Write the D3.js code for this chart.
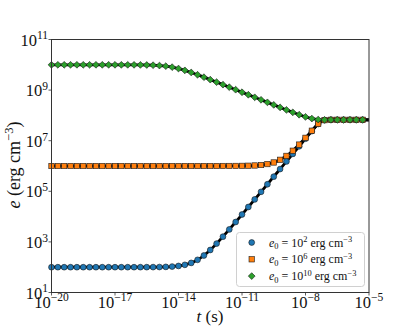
<!DOCTYPE html>
<html><head><meta charset="utf-8">
<script src="https://cdn.jsdelivr.net/npm/d3@7"></script>
<style>
body{margin:0;background:#fff}
svg{display:block}
text{font-family:"Liberation Serif","DejaVu Serif",serif;white-space:pre;fill:#111}
</style>
</head><body><svg id="c" width="411" height="329"></svg>
<script>
// time samples (s); the last one only extends the black curve to the axis edge
const times = [1e-20,1.995e-20,3.981e-20,7.943e-20,1.585e-19,3.162e-19,6.310e-19,1.259e-18,2.512e-18,5.012e-18,
  1e-17,1.995e-17,3.981e-17,7.943e-17,1.585e-16,3.162e-16,6.310e-16,1.259e-15,2.512e-15,5.012e-15,
  1e-14,1.995e-14,3.981e-14,7.943e-14,1.585e-13,3.162e-13,6.310e-13,1.259e-12,2.512e-12,5.012e-12,
  1e-11,1.995e-11,3.981e-11,7.943e-11,1.585e-10,3.162e-10,6.310e-10,1.259e-9,2.512e-9,5.012e-9,
  1e-8,1.995e-8,3.981e-8,7.943e-8,1.585e-7,3.162e-7,6.310e-7,1.259e-6,2.512e-6,5.012e-6,1e-5];
// e (erg cm^-3) for e0 = 1e2
const eLow = [100,100,100,100,100,100,100,100,100,100,
  100.01,100.02,100.05,100.1,100.19,100.38,100.76,101.5,103.0,106.0,
  112.0,123.9,147.8,195.3,290,479,857,1610,3113,6112,
  12100,24000,47900,95400,1.90e5,3.79e5,7.57e5,1.51e6,3.01e6,6.01e6,
  1.20e7,2.39e7,4.56e7,6.49e7,6.7e7,6.7e7,6.7e7,6.7e7,6.7e7,6.7e7,6.7e7];
// e0 = 1e6
const eMid = [1e6,1e6,1e6,1e6,1e6,1e6,1e6,1e6,1e6,1e6,
  1e6,1e6,1e6,1e6,1e6,1e6,1e6,1e6,1e6,1e6,
  1e6,1e6,1e6,1e6,1e6,1e6,1e6,1.0015e6,1.003e6,1.006e6,
  1.012e6,1.024e6,1.048e6,1.095e6,1.19e6,1.379e6,1.757e6,2.51e6,4.01e6,7.01e6,
  1.3e7,2.48e7,4.63e7,6.50e7,6.7e7,6.7e7,6.7e7,6.7e7,6.7e7,6.7e7,6.7e7];
// e0 = 1e10
const eHigh = [1e10,1e10,1e10,1e10,1e10,1e10,1e10,1e10,1e10,1e10,
  9.994e9,9.988e9,9.976e9,9.953e9,9.907e9,9.818e9,9.650e9,9.347e9,8.839e9,8.081e9,
  7.108e9,6.029e9,4.977e9,4.037e9,3.243e9,2.592e9,2.064e9,1.642e9,1.305e9,1.037e9,
  8.239e8,6.545e8,5.200e8,4.131e8,3.281e8,2.606e8,2.070e8,1.651e8,1.319e8,1.063e8,
  8.739e7,7.489e7,6.867e7,6.709e7,6.7e7,6.7e7,6.7e7,6.7e7,6.7e7,6.7e7,6.7e7];

const xTicks = [1e-20,1e-17,1e-14,1e-11,1e-8,1e-5];
const xTickExp = ["−20","−17","−14","−11","−8","−5"];
const yTicks = [1e1,1e3,1e5,1e7,1e9,1e11];
const yTickExp = ["1","3","5","7","9","11"];
const legendExp = ["2","6","10"];
const colors = ["#1f77b4","#ff7f0e","#2ca02c"];
const shapes = ["circle","square","diamond"];

const svg = d3.select("#c");
const L=51.5, R=369, T=39.5, B=292.5;
const x = d3.scaleLog().domain([1e-20,1e-5]).range([L,R]);
const y = d3.scaleLog().domain([1e1,1e11]).range([B,T]);

function rich(sel, parts, fs){
  let cur=0;
  parts.forEach(p=>{
    const target = p.sup ? -0.37*fs : (p.sub ? 0.22*fs : 0);
    sel.append("tspan").attr("dy", (target-cur).toFixed(2))
      .style("font-size", ((p.sup||p.sub)?0.7*fs:fs)+"px")
      .style("font-style", p.it?"italic":"normal")
      .text(p.t);
    cur = target;
  });
}

function marker(g, shape, color){
  let p;
  if(shape==="circle") p = g.append("circle").attr("r",2.9);
  else if(shape==="square") p = g.append("rect").attr("x",-2.7).attr("y",-2.7).attr("width",5.4).attr("height",5.4);
  else p = g.append("path").attr("d","M0,-3.4L3.4,0L0,3.4L-3.4,0Z");
  p.attr("fill",color).attr("stroke","#1a1a1a").attr("stroke-width",0.6);
}

const series = [eLow, eMid, eHigh].map(vals => times.map((t,i)=>({t, e: vals[i]})));

// curves
const line = d3.line().x(d=>x(d.t)).y(d=>y(d.e)).curve(d3.curveMonotoneX);
series.forEach(s=>{
  svg.append("path").attr("d", line(s)).attr("fill","none").attr("stroke","#000").attr("stroke-width",2.8);
});
// markers
series.forEach((s,si)=>{
  s.slice(0, s.length-1).forEach(d=>{
    const g = svg.append("g").attr("transform",`translate(${x(d.t)},${y(d.e)})`);
    marker(g, shapes[si], colors[si]);
  });
});

// frame
svg.append("rect").attr("x",L).attr("y",T).attr("width",R-L).attr("height",B-T)
  .attr("fill","none").attr("stroke","#333").attr("stroke-width",1);

// x ticks
xTicks.forEach((v,i)=>{
  const px = x(v);
  svg.append("line").attr("x1",px).attr("x2",px).attr("y1",B).attr("y2",B+3).attr("stroke","#333").attr("stroke-width",0.8);
  const t = svg.append("text").attr("x",px).attr("y",307.5).attr("text-anchor","middle");
  rich(t,[{t:"10"},{t:xTickExp[i],sup:true}],16.5);
});
// y ticks
yTicks.forEach((v,i)=>{
  const py = y(v);
  svg.append("line").attr("x1",L-3).attr("x2",L).attr("y1",py).attr("y2",py).attr("stroke","#333").attr("stroke-width",0.8);
  const t = svg.append("text").attr("x",48).attr("y",py+6).attr("text-anchor","end");
  rich(t,[{t:"10"},{t:yTickExp[i],sup:true}],16.5);
});

// axis labels
const xl = svg.append("text").attr("x",210).attr("y",322).attr("text-anchor","middle");
rich(xl,[{t:"t",it:true},{t:" (s)"}],17);
const yl = svg.append("text").attr("transform","translate(19.5,165) rotate(-90)").attr("text-anchor","middle");
rich(yl,[{t:"e",it:true},{t:" (erg cm"},{t:"−3",sup:true},{t:")"}],18);

// legend
svg.append("rect").attr("x",236.5).attr("y",232.5).attr("width",128).attr("height",54).attr("rx",3)
  .attr("fill","#fff").attr("fill-opacity",0.8).attr("stroke","#d0d0d0").attr("stroke-width",1);
legendExp.forEach((ex,i)=>{
  const ly = 242.5 + i*16.8;
  const g = svg.append("g").attr("transform",`translate(251.7,${ly})`);
  marker(g, shapes[i], colors[i]);
  const t = svg.append("text").attr("x",269).attr("y",ly+4);
  rich(t,[{t:"e",it:true},{t:"0",sub:true},{t:" = 10"},{t:ex,sup:true},{t:" erg cm"},{t:"−3",sup:true}],12);
});
</script>
</body></html>
